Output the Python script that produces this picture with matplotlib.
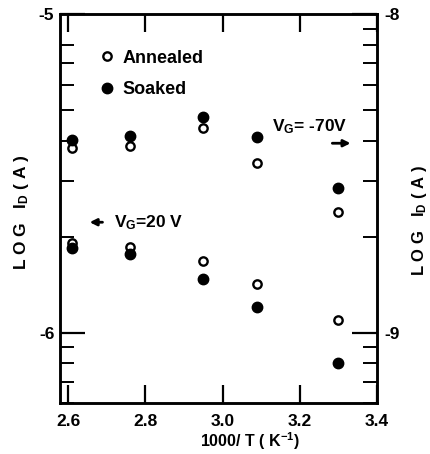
import matplotlib
matplotlib.use("Agg")
import matplotlib.pyplot as plt
from matplotlib.ticker import FixedLocator, FuncFormatter, NullFormatter
import numpy as np

plt.rcParams['font.family'] = ['Liberation Sans', 'DejaVu Sans']
plt.rcParams['font.weight'] = 'bold'
plt.rcParams['axes.labelweight'] = 'bold'
plt.rcParams['mathtext.fontset'] = 'custom'
plt.rcParams['mathtext.rm'] = 'Liberation Sans:bold'
plt.rcParams['mathtext.bf'] = 'Liberation Sans:bold'
plt.rcParams['mathtext.it'] = 'Liberation Sans:bold'
plt.rcParams['mathtext.default'] = 'bf'

# 1000/T (K^-1)
inv_T = [2.61, 2.76, 2.95, 3.09, 3.30]

# V_G = 20 V  -> left axis, LOG I_D
ann_20 = [-5.720, -5.730, -5.777, -5.849, -5.962]
soak_20 = [-5.736, -5.752, -5.833, -5.921, -6.097]

# V_G = -70 V -> right axis, LOG I_D
ann_70 = [-8.421, -8.415, -8.359, -8.469, -8.623]
soak_70 = [-8.396, -8.384, -8.324, -8.387, -8.547]

x_ticks = [2.6, 2.8, 3.0, 3.2, 3.4]
left_major = [-6, -5]
right_major = [-9, -8]

fs = 12.5
fig = plt.figure(figsize=(4.31, 4.54), dpi=100)
ax = fig.add_axes([0.139, 0.112, 0.736, 0.857])
ax2 = ax.twinx()

# 左軸 / 右軸
ax.set_yscale('log')
ax.set_ylim(6e-7, 1e-5)
ax.set_xlim(2.579, 3.4)
ax2.set_yscale('log')
ax2.set_ylim(6e-10, 1e-8)

mo = dict(marker='o', ls='none', color='black')
ax.plot(inv_T, 10 ** np.array(ann_20), mfc='white', ms=6, mew=1.7, **mo)
ax.plot(inv_T, 10 ** np.array(soak_20), ms=7.5, **mo)
ax2.plot(inv_T, 10 ** np.array(ann_70), mfc='white', ms=6, mew=1.7, **mo)
ax2.plot(inv_T, 10 ** np.array(soak_70), ms=7.5, **mo)

logfmt = FuncFormatter(lambda v, p: "%d" % round(np.log10(v)))
minors_l = [k * 1e-7 for k in range(6, 10)] + [k * 1e-6 for k in range(2, 9)]
minors_r = [k * 1e-10 for k in range(6, 10)] + [k * 1e-9 for k in range(2, 10)]

ax.yaxis.set_major_locator(FixedLocator([10.0 ** v for v in left_major]))
ax.yaxis.set_major_formatter(logfmt)
ax.yaxis.set_minor_locator(FixedLocator(minors_l))
ax.yaxis.set_minor_formatter(NullFormatter())

ax2.yaxis.set_major_locator(FixedLocator([10.0 ** v for v in right_major]))
ax2.yaxis.set_major_formatter(logfmt)
ax2.yaxis.set_minor_locator(FixedLocator(minors_r))
ax2.yaxis.set_minor_formatter(NullFormatter())

ax.set_xticks(x_ticks)
ax.set_xticklabels(["%.1f" % v for v in x_ticks])
ax.tick_params(axis='x', direction='in', length=13, width=1.6, labelsize=fs, pad=8, top=True)
ax.tick_params(axis='y', which='major', direction='in', length=18, width=1.6, labelsize=fs, pad=4)
ax.tick_params(axis='y', which='minor', direction='in', length=10, width=1.4)
ax2.tick_params(axis='y', which='major', direction='in', length=18, width=1.6, labelsize=fs, pad=5)
ax2.tick_params(axis='y', which='minor', direction='in', length=10, width=1.4)

for a in (ax, ax2):
    for s in a.spines.values():
        s.set_linewidth(1.8)

ax.set_ylabel(r"L O G   I$_D$ ( A )", fontsize=fs)
ax.yaxis.set_label_coords(-0.092, 0.49)
ax2.set_ylabel(r"L O G   I$_D$ ( A )", fontsize=12, rotation=90)
ax2.yaxis.set_label_coords(1.105, 0.47)
ax.set_xlabel(r"1000/ T ( K$^{-1}$)", fontsize=11.5)
ax.xaxis.set_label_coords(0.6, -0.07)

# 凡例
h1, = ax.plot([], [], mfc='white', ms=6, mew=1.7, **mo)
h2, = ax.plot([], [], ms=7.5, **mo)
ax.legend([h1, h2], ["Annealed", "Soaked"], loc='upper left',
          bbox_to_anchor=(0.073, 0.95), frameon=False, fontsize=13,
          handlelength=0.9, handletextpad=0.4, labelspacing=0.8)

ax.text(0.172, 0.465, r"V$_G$=20 V", transform=ax.transAxes,
        fontsize=fs, va='center', ha='left')
ax.annotate("", xy=(0.085, 0.465), xytext=(0.143, 0.465), xycoords='axes fraction',
            arrowprops=dict(arrowstyle='-|>', color='black', lw=2, mutation_scale=10))
ax.text(0.668, 0.71, r"V$_G$= -70V", transform=ax.transAxes,
        fontsize=fs, va='center', ha='left')
ax.annotate("", xy=(0.925, 0.668), xytext=(0.85, 0.668), xycoords='axes fraction',
            arrowprops=dict(arrowstyle='-|>', color='black', lw=2, mutation_scale=10))

fig.savefig("out.png", dpi=100)
